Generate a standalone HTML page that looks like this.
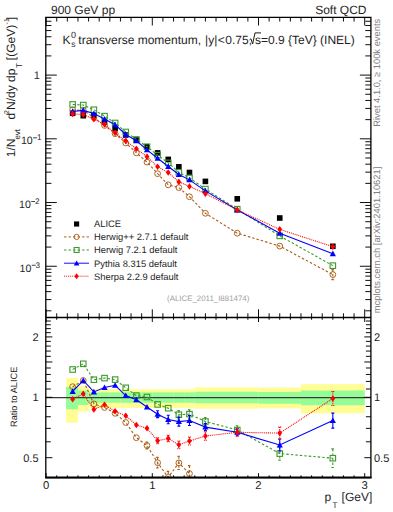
<!DOCTYPE html><html><head><meta charset="utf-8"><style>html,body{margin:0;padding:0;background:#fff;width:393px;height:512px;overflow:hidden}svg{display:block}text{text-rendering:geometricPrecision}</style></head><body><svg width="393" height="512" viewBox="0 0 393 512" font-family="Liberation Sans, sans-serif">
<rect width="393" height="512" fill="#fff"/>
<rect x="66.10" y="378.00" width="11.86" height="44.70" fill="#fffd94"/>
<rect x="77.96" y="386.40" width="10.62" height="25.00" fill="#fffd94"/>
<rect x="88.58" y="389.20" width="10.62" height="18.80" fill="#fffd94"/>
<rect x="99.20" y="389.20" width="10.62" height="18.80" fill="#fffd94"/>
<rect x="109.82" y="389.20" width="10.62" height="18.80" fill="#fffd94"/>
<rect x="120.44" y="389.20" width="10.62" height="18.80" fill="#fffd94"/>
<rect x="131.06" y="389.20" width="10.62" height="18.80" fill="#fffd94"/>
<rect x="141.68" y="389.20" width="10.62" height="18.80" fill="#fffd94"/>
<rect x="152.30" y="389.20" width="10.62" height="18.80" fill="#fffd94"/>
<rect x="162.92" y="389.20" width="10.62" height="18.80" fill="#fffd94"/>
<rect x="173.54" y="389.20" width="10.62" height="18.80" fill="#fffd94"/>
<rect x="184.16" y="389.20" width="10.62" height="18.80" fill="#fffd94"/>
<rect x="194.78" y="387.40" width="21.24" height="21.40" fill="#fffd94"/>
<rect x="216.02" y="387.40" width="42.48" height="21.40" fill="#fffd94"/>
<rect x="258.50" y="387.60" width="42.48" height="20.80" fill="#fffd94"/>
<rect x="300.98" y="384.20" width="63.72" height="29.10" fill="#fffd94"/>
<rect x="66.10" y="387.00" width="11.86" height="22.30" fill="#95fc98"/>
<rect x="77.96" y="390.60" width="10.62" height="14.40" fill="#95fc98"/>
<rect x="88.58" y="392.40" width="10.62" height="10.40" fill="#95fc98"/>
<rect x="99.20" y="392.40" width="10.62" height="10.40" fill="#95fc98"/>
<rect x="109.82" y="392.40" width="10.62" height="10.40" fill="#95fc98"/>
<rect x="120.44" y="392.40" width="10.62" height="10.40" fill="#95fc98"/>
<rect x="131.06" y="392.40" width="10.62" height="10.40" fill="#95fc98"/>
<rect x="141.68" y="392.40" width="10.62" height="10.40" fill="#95fc98"/>
<rect x="152.30" y="392.40" width="10.62" height="10.40" fill="#95fc98"/>
<rect x="162.92" y="392.40" width="10.62" height="10.40" fill="#95fc98"/>
<rect x="173.54" y="392.40" width="10.62" height="10.40" fill="#95fc98"/>
<rect x="184.16" y="392.40" width="10.62" height="10.40" fill="#95fc98"/>
<rect x="194.78" y="391.80" width="21.24" height="11.40" fill="#95fc98"/>
<rect x="216.02" y="391.80" width="42.48" height="11.40" fill="#95fc98"/>
<rect x="258.50" y="392.00" width="42.48" height="11.70" fill="#95fc98"/>
<rect x="300.98" y="390.50" width="63.72" height="14.80" fill="#95fc98"/>
<line x1="45.8" y1="397.6" x2="370.9" y2="397.6" stroke="#3a3a3a" stroke-width="1.1"/>
<defs><clipPath id="ct"><rect x="45.8" y="17.3" width="325.09999999999997" height="300.2"/></clipPath><clipPath id="cb"><rect x="45.8" y="317.5" width="325.09999999999997" height="160.10000000000002"/></clipPath></defs>
<g clip-path="url(#ct)">
<rect x="69.85" y="110.50" width="5.60" height="5.60" fill="#000"/>
<rect x="80.47" y="112.90" width="5.60" height="5.60" fill="#000"/>
<rect x="91.09" y="112.50" width="5.60" height="5.60" fill="#000"/>
<rect x="101.71" y="119.40" width="5.60" height="5.60" fill="#000"/>
<rect x="112.33" y="125.80" width="5.60" height="5.60" fill="#000"/>
<rect x="122.95" y="132.20" width="5.60" height="5.60" fill="#000"/>
<rect x="133.57" y="137.20" width="5.60" height="5.60" fill="#000"/>
<rect x="144.19" y="144.00" width="5.60" height="5.60" fill="#000"/>
<rect x="154.81" y="150.10" width="5.60" height="5.60" fill="#000"/>
<rect x="165.43" y="156.60" width="5.60" height="5.60" fill="#000"/>
<rect x="176.05" y="164.00" width="5.60" height="5.60" fill="#000"/>
<rect x="186.67" y="169.70" width="5.60" height="5.60" fill="#000"/>
<rect x="202.60" y="178.60" width="5.60" height="5.60" fill="#000"/>
<rect x="234.46" y="196.00" width="5.60" height="5.60" fill="#000"/>
<rect x="276.94" y="215.20" width="5.60" height="5.60" fill="#000"/>
<rect x="330.04" y="243.50" width="5.60" height="5.60" fill="#000"/>
<polyline points="72.65,109.93 83.27,110.36 93.89,117.40 104.51,125.44 115.13,133.68 125.75,143.00 136.37,152.83 146.99,162.11 157.61,173.67 168.23,184.84 178.85,187.64 189.47,196.74 205.40,213.30 237.26,233.20 279.74,246.10 332.84,274.60" fill="none" stroke="#aa5c16" stroke-width="1.1" stroke-dasharray="2.5,2"/>
<path d="M332.84,269.60V279.60M331.34,269.60h3M331.34,279.60h3" fill="none" stroke="#aa5c16" stroke-width="1.1" stroke-dasharray="2.5,2"/>
<circle cx="72.65" cy="109.93" r="2.90" fill="none" stroke="#aa5c16" stroke-width="0.95"/>
<circle cx="83.27" cy="110.36" r="2.90" fill="none" stroke="#aa5c16" stroke-width="0.95"/>
<circle cx="93.89" cy="117.40" r="2.90" fill="none" stroke="#aa5c16" stroke-width="0.95"/>
<circle cx="104.51" cy="125.44" r="2.90" fill="none" stroke="#aa5c16" stroke-width="0.95"/>
<circle cx="115.13" cy="133.68" r="2.90" fill="none" stroke="#aa5c16" stroke-width="0.95"/>
<circle cx="125.75" cy="143.00" r="2.90" fill="none" stroke="#aa5c16" stroke-width="0.95"/>
<circle cx="136.37" cy="152.83" r="2.90" fill="none" stroke="#aa5c16" stroke-width="0.95"/>
<circle cx="146.99" cy="162.11" r="2.90" fill="none" stroke="#aa5c16" stroke-width="0.95"/>
<circle cx="157.61" cy="173.67" r="2.90" fill="none" stroke="#aa5c16" stroke-width="0.95"/>
<circle cx="168.23" cy="184.84" r="2.90" fill="none" stroke="#aa5c16" stroke-width="0.95"/>
<circle cx="178.85" cy="187.64" r="2.90" fill="none" stroke="#aa5c16" stroke-width="0.95"/>
<circle cx="189.47" cy="196.74" r="2.90" fill="none" stroke="#aa5c16" stroke-width="0.95"/>
<circle cx="205.40" cy="213.30" r="2.90" fill="none" stroke="#aa5c16" stroke-width="0.95"/>
<circle cx="237.26" cy="233.20" r="2.90" fill="none" stroke="#aa5c16" stroke-width="0.95"/>
<circle cx="279.74" cy="246.10" r="2.90" fill="none" stroke="#aa5c16" stroke-width="0.95"/>
<circle cx="332.84" cy="274.60" r="2.90" fill="none" stroke="#aa5c16" stroke-width="0.95"/>
<polyline points="72.65,104.47 83.27,105.06 93.89,109.71 104.51,116.10 115.13,122.98 125.75,131.98 136.37,139.46 146.99,146.70 157.61,155.16 168.23,162.86 178.85,172.33 189.47,177.84 205.40,189.09 237.26,209.19 279.74,235.88 332.84,265.64" fill="none" stroke="#3a9a2a" stroke-width="1.1" stroke-dasharray="2.5,2"/>
<rect x="69.90" y="101.72" width="5.50" height="5.50" fill="none" stroke="#3a9a2a" stroke-width="1.1"/>
<rect x="80.52" y="102.31" width="5.50" height="5.50" fill="none" stroke="#3a9a2a" stroke-width="1.1"/>
<rect x="91.14" y="106.96" width="5.50" height="5.50" fill="none" stroke="#3a9a2a" stroke-width="1.1"/>
<rect x="101.76" y="113.35" width="5.50" height="5.50" fill="none" stroke="#3a9a2a" stroke-width="1.1"/>
<rect x="112.38" y="120.23" width="5.50" height="5.50" fill="none" stroke="#3a9a2a" stroke-width="1.1"/>
<rect x="123.00" y="129.23" width="5.50" height="5.50" fill="none" stroke="#3a9a2a" stroke-width="1.1"/>
<rect x="133.62" y="136.71" width="5.50" height="5.50" fill="none" stroke="#3a9a2a" stroke-width="1.1"/>
<rect x="144.24" y="143.95" width="5.50" height="5.50" fill="none" stroke="#3a9a2a" stroke-width="1.1"/>
<rect x="154.86" y="152.41" width="5.50" height="5.50" fill="none" stroke="#3a9a2a" stroke-width="1.1"/>
<rect x="165.48" y="160.11" width="5.50" height="5.50" fill="none" stroke="#3a9a2a" stroke-width="1.1"/>
<rect x="176.10" y="169.58" width="5.50" height="5.50" fill="none" stroke="#3a9a2a" stroke-width="1.1"/>
<rect x="186.72" y="175.09" width="5.50" height="5.50" fill="none" stroke="#3a9a2a" stroke-width="1.1"/>
<rect x="202.65" y="186.34" width="5.50" height="5.50" fill="none" stroke="#3a9a2a" stroke-width="1.1"/>
<rect x="234.51" y="206.44" width="5.50" height="5.50" fill="none" stroke="#3a9a2a" stroke-width="1.1"/>
<rect x="276.99" y="233.13" width="5.50" height="5.50" fill="none" stroke="#3a9a2a" stroke-width="1.1"/>
<rect x="330.09" y="262.89" width="5.50" height="5.50" fill="none" stroke="#3a9a2a" stroke-width="1.1"/>
<polyline points="72.65,111.43 83.27,110.36 93.89,113.58 104.51,119.09 115.13,124.79 125.75,134.46 136.37,140.79 146.99,149.88 157.61,158.27 168.23,166.45 178.85,174.52 189.47,179.87 205.40,190.87 237.26,209.92 279.74,233.15 332.84,253.70" fill="none" stroke="#0000ff" stroke-width="1.1"/>
<path d="M69.55,113.91L75.75,113.91L72.65,108.33Z" fill="#0000ff"/>
<path d="M80.17,112.84L86.37,112.84L83.27,107.26Z" fill="#0000ff"/>
<path d="M90.79,116.06L96.99,116.06L93.89,110.48Z" fill="#0000ff"/>
<path d="M101.41,121.57L107.61,121.57L104.51,115.99Z" fill="#0000ff"/>
<path d="M112.03,127.27L118.23,127.27L115.13,121.69Z" fill="#0000ff"/>
<path d="M122.65,136.94L128.85,136.94L125.75,131.36Z" fill="#0000ff"/>
<path d="M133.27,143.27L139.47,143.27L136.37,137.69Z" fill="#0000ff"/>
<path d="M143.89,152.36L150.09,152.36L146.99,146.78Z" fill="#0000ff"/>
<path d="M154.51,160.75L160.71,160.75L157.61,155.17Z" fill="#0000ff"/>
<path d="M165.13,168.93L171.33,168.93L168.23,163.35Z" fill="#0000ff"/>
<path d="M175.75,177.00L181.95,177.00L178.85,171.42Z" fill="#0000ff"/>
<path d="M186.37,182.35L192.57,182.35L189.47,176.77Z" fill="#0000ff"/>
<path d="M202.30,193.35L208.50,193.35L205.40,187.77Z" fill="#0000ff"/>
<path d="M234.16,212.40L240.36,212.40L237.26,206.82Z" fill="#0000ff"/>
<path d="M276.64,235.63L282.84,235.63L279.74,230.05Z" fill="#0000ff"/>
<path d="M329.74,256.18L335.94,256.18L332.84,250.60Z" fill="#0000ff"/>
<polyline points="72.65,113.90 83.27,114.57 93.89,119.14 104.51,124.55 115.13,133.05 125.75,140.84 136.37,148.80 146.99,156.65 157.61,166.72 168.23,172.46 178.85,181.89 189.47,186.38 205.40,193.69 237.26,209.92 279.74,229.37 332.84,246.68" fill="none" stroke="#ff0000" stroke-width="1.1" stroke-dasharray="1,0.95"/>
<path d="M72.65,110.60L75.05,113.90L72.65,117.20L70.25,113.90Z" fill="#ff0000"/>
<path d="M83.27,111.27L85.67,114.57L83.27,117.87L80.87,114.57Z" fill="#ff0000"/>
<path d="M93.89,115.84L96.29,119.14L93.89,122.44L91.49,119.14Z" fill="#ff0000"/>
<path d="M104.51,121.25L106.91,124.55L104.51,127.85L102.11,124.55Z" fill="#ff0000"/>
<path d="M115.13,129.75L117.53,133.05L115.13,136.35L112.73,133.05Z" fill="#ff0000"/>
<path d="M125.75,137.54L128.15,140.84L125.75,144.14L123.35,140.84Z" fill="#ff0000"/>
<path d="M136.37,145.50L138.77,148.80L136.37,152.10L133.97,148.80Z" fill="#ff0000"/>
<path d="M146.99,153.35L149.39,156.65L146.99,159.95L144.59,156.65Z" fill="#ff0000"/>
<path d="M157.61,163.42L160.01,166.72L157.61,170.02L155.21,166.72Z" fill="#ff0000"/>
<path d="M168.23,169.16L170.63,172.46L168.23,175.76L165.83,172.46Z" fill="#ff0000"/>
<path d="M178.85,178.59L181.25,181.89L178.85,185.19L176.45,181.89Z" fill="#ff0000"/>
<path d="M189.47,183.08L191.87,186.38L189.47,189.68L187.07,186.38Z" fill="#ff0000"/>
<path d="M205.40,190.39L207.80,193.69L205.40,196.99L203.00,193.69Z" fill="#ff0000"/>
<path d="M237.26,206.62L239.66,209.92L237.26,213.22L234.86,209.92Z" fill="#ff0000"/>
<path d="M279.74,226.07L282.14,229.37L279.74,232.67L277.34,229.37Z" fill="#ff0000"/>
<path d="M332.84,243.38L335.24,246.68L332.84,249.98L330.44,246.68Z" fill="#ff0000"/>
</g>
<g clip-path="url(#cb)">
<polyline points="72.65,386.70 83.27,380.50 93.89,403.90 104.51,407.50 115.13,413.30 125.75,422.50 136.37,437.70 146.99,445.50 157.61,462.70 168.23,477.40 178.85,462.90 189.47,473.60" fill="none" stroke="#aa5c16" stroke-width="1.1" stroke-dasharray="2.5,2"/>
<path d="M146.99,442.00V449.00M145.49,442.00h3M145.49,449.00h3M157.61,457.40V468.00M156.11,457.40h3M156.11,468.00h3M168.23,471.40V483.40M166.73,471.40h3M166.73,483.40h3M178.85,456.30V469.50M177.35,456.30h3M177.35,469.50h3M189.47,465.60V481.60M187.97,465.60h3M187.97,481.60h3" fill="none" stroke="#aa5c16" stroke-width="1.1" stroke-dasharray="2.5,2"/>
<circle cx="72.65" cy="386.70" r="2.90" fill="none" stroke="#aa5c16" stroke-width="0.95"/>
<circle cx="83.27" cy="380.50" r="2.90" fill="none" stroke="#aa5c16" stroke-width="0.95"/>
<circle cx="93.89" cy="403.90" r="2.90" fill="none" stroke="#aa5c16" stroke-width="0.95"/>
<circle cx="104.51" cy="407.50" r="2.90" fill="none" stroke="#aa5c16" stroke-width="0.95"/>
<circle cx="115.13" cy="413.30" r="2.90" fill="none" stroke="#aa5c16" stroke-width="0.95"/>
<circle cx="125.75" cy="422.50" r="2.90" fill="none" stroke="#aa5c16" stroke-width="0.95"/>
<circle cx="136.37" cy="437.70" r="2.90" fill="none" stroke="#aa5c16" stroke-width="0.95"/>
<circle cx="146.99" cy="445.50" r="2.90" fill="none" stroke="#aa5c16" stroke-width="0.95"/>
<circle cx="157.61" cy="462.70" r="2.90" fill="none" stroke="#aa5c16" stroke-width="0.95"/>
<circle cx="168.23" cy="477.40" r="2.90" fill="none" stroke="#aa5c16" stroke-width="0.95"/>
<circle cx="178.85" cy="462.90" r="2.90" fill="none" stroke="#aa5c16" stroke-width="0.95"/>
<circle cx="189.47" cy="473.60" r="2.90" fill="none" stroke="#aa5c16" stroke-width="0.95"/>
<polyline points="72.65,369.50 83.27,363.80 93.89,379.70 104.51,378.10 115.13,379.60 125.75,387.80 136.37,395.60 146.99,397.00 157.61,404.40 168.23,408.20 178.85,414.70 189.47,414.10 205.40,421.50 237.26,430.00 279.74,453.60 332.84,458.20" fill="none" stroke="#3a9a2a" stroke-width="1.1" stroke-dasharray="2.5,2"/>
<path d="M178.85,410.50V418.90M177.35,410.50h3M177.35,418.90h3M189.47,409.90V418.30M187.97,409.90h3M187.97,418.30h3M205.40,417.50V425.50M203.90,417.50h3M203.90,425.50h3M237.26,425.80V434.20M235.76,425.80h3M235.76,434.20h3M279.74,447.10V460.10M278.24,447.10h3M278.24,460.10h3M332.84,448.90V467.50M331.34,448.90h3M331.34,467.50h3" fill="none" stroke="#3a9a2a" stroke-width="1.1" stroke-dasharray="2.5,2"/>
<rect x="69.90" y="366.75" width="5.50" height="5.50" fill="none" stroke="#3a9a2a" stroke-width="1.1"/>
<rect x="80.52" y="361.05" width="5.50" height="5.50" fill="none" stroke="#3a9a2a" stroke-width="1.1"/>
<rect x="91.14" y="376.95" width="5.50" height="5.50" fill="none" stroke="#3a9a2a" stroke-width="1.1"/>
<rect x="101.76" y="375.35" width="5.50" height="5.50" fill="none" stroke="#3a9a2a" stroke-width="1.1"/>
<rect x="112.38" y="376.85" width="5.50" height="5.50" fill="none" stroke="#3a9a2a" stroke-width="1.1"/>
<rect x="123.00" y="385.05" width="5.50" height="5.50" fill="none" stroke="#3a9a2a" stroke-width="1.1"/>
<rect x="133.62" y="392.85" width="5.50" height="5.50" fill="none" stroke="#3a9a2a" stroke-width="1.1"/>
<rect x="144.24" y="394.25" width="5.50" height="5.50" fill="none" stroke="#3a9a2a" stroke-width="1.1"/>
<rect x="154.86" y="401.65" width="5.50" height="5.50" fill="none" stroke="#3a9a2a" stroke-width="1.1"/>
<rect x="165.48" y="405.45" width="5.50" height="5.50" fill="none" stroke="#3a9a2a" stroke-width="1.1"/>
<rect x="176.10" y="411.95" width="5.50" height="5.50" fill="none" stroke="#3a9a2a" stroke-width="1.1"/>
<rect x="186.72" y="411.35" width="5.50" height="5.50" fill="none" stroke="#3a9a2a" stroke-width="1.1"/>
<rect x="202.65" y="418.75" width="5.50" height="5.50" fill="none" stroke="#3a9a2a" stroke-width="1.1"/>
<rect x="234.51" y="427.25" width="5.50" height="5.50" fill="none" stroke="#3a9a2a" stroke-width="1.1"/>
<rect x="276.99" y="450.85" width="5.50" height="5.50" fill="none" stroke="#3a9a2a" stroke-width="1.1"/>
<rect x="330.09" y="455.45" width="5.50" height="5.50" fill="none" stroke="#3a9a2a" stroke-width="1.1"/>
<polyline points="72.65,391.40 83.27,380.50 93.89,391.90 104.51,387.50 115.13,385.30 125.75,395.60 136.37,399.80 146.99,407.00 157.61,414.20 168.23,419.50 178.85,421.60 189.47,420.50 205.40,427.10 237.26,432.30 279.74,445.00 332.84,420.60" fill="none" stroke="#0000ff" stroke-width="1.1"/>
<path d="M157.61,410.80V417.60M156.11,410.80h3M156.11,417.60h3M168.23,415.30V423.70M166.73,415.30h3M166.73,423.70h3M178.85,417.10V426.10M177.35,417.10h3M177.35,426.10h3M189.47,415.50V425.50M187.97,415.50h3M187.97,425.50h3M205.40,423.60V430.60M203.90,423.60h3M203.90,430.60h3M237.26,428.90V435.70M235.76,428.90h3M235.76,435.70h3M279.74,439.00V451.00M278.24,439.00h3M278.24,451.00h3M332.84,413.10V428.10M331.34,413.10h3M331.34,428.10h3" fill="none" stroke="#0000ff" stroke-width="1.1"/>
<path d="M69.55,393.88L75.75,393.88L72.65,388.30Z" fill="#0000ff"/>
<path d="M80.17,382.98L86.37,382.98L83.27,377.40Z" fill="#0000ff"/>
<path d="M90.79,394.38L96.99,394.38L93.89,388.80Z" fill="#0000ff"/>
<path d="M101.41,389.98L107.61,389.98L104.51,384.40Z" fill="#0000ff"/>
<path d="M112.03,387.78L118.23,387.78L115.13,382.20Z" fill="#0000ff"/>
<path d="M122.65,398.08L128.85,398.08L125.75,392.50Z" fill="#0000ff"/>
<path d="M133.27,402.28L139.47,402.28L136.37,396.70Z" fill="#0000ff"/>
<path d="M143.89,409.48L150.09,409.48L146.99,403.90Z" fill="#0000ff"/>
<path d="M154.51,416.68L160.71,416.68L157.61,411.10Z" fill="#0000ff"/>
<path d="M165.13,421.98L171.33,421.98L168.23,416.40Z" fill="#0000ff"/>
<path d="M175.75,424.08L181.95,424.08L178.85,418.50Z" fill="#0000ff"/>
<path d="M186.37,422.98L192.57,422.98L189.47,417.40Z" fill="#0000ff"/>
<path d="M202.30,429.58L208.50,429.58L205.40,424.00Z" fill="#0000ff"/>
<path d="M234.16,434.78L240.36,434.78L237.26,429.20Z" fill="#0000ff"/>
<path d="M276.64,447.48L282.84,447.48L279.74,441.90Z" fill="#0000ff"/>
<path d="M329.74,423.08L335.94,423.08L332.84,417.50Z" fill="#0000ff"/>
<polyline points="72.65,399.20 83.27,393.75 93.89,409.40 104.51,404.70 115.13,411.30 125.75,415.70 136.37,425.00 146.99,428.30 157.61,440.80 168.23,438.40 178.85,444.80 189.47,441.00 205.40,436.00 237.26,432.30 279.74,433.10 332.84,398.50" fill="none" stroke="#ff0000" stroke-width="1.1" stroke-dasharray="1,0.95"/>
<path d="M157.61,437.80V443.80M156.11,437.80h3M156.11,443.80h3M168.23,435.20V441.60M166.73,435.20h3M166.73,441.60h3M178.85,441.00V448.60M177.35,441.00h3M177.35,448.60h3M189.47,437.00V445.00M187.97,437.00h3M187.97,445.00h3M205.40,431.80V440.20M203.90,431.80h3M203.90,440.20h3M237.26,428.30V436.30M235.76,428.30h3M235.76,436.30h3M279.74,427.10V439.10M278.24,427.10h3M278.24,439.10h3M332.84,391.50V405.50M331.34,391.50h3M331.34,405.50h3" fill="none" stroke="#ff0000" stroke-width="1.1" stroke-dasharray="1,0.95"/>
<path d="M72.65,395.90L75.05,399.20L72.65,402.50L70.25,399.20Z" fill="#ff0000"/>
<path d="M83.27,390.45L85.67,393.75L83.27,397.05L80.87,393.75Z" fill="#ff0000"/>
<path d="M93.89,406.10L96.29,409.40L93.89,412.70L91.49,409.40Z" fill="#ff0000"/>
<path d="M104.51,401.40L106.91,404.70L104.51,408.00L102.11,404.70Z" fill="#ff0000"/>
<path d="M115.13,408.00L117.53,411.30L115.13,414.60L112.73,411.30Z" fill="#ff0000"/>
<path d="M125.75,412.40L128.15,415.70L125.75,419.00L123.35,415.70Z" fill="#ff0000"/>
<path d="M136.37,421.70L138.77,425.00L136.37,428.30L133.97,425.00Z" fill="#ff0000"/>
<path d="M146.99,425.00L149.39,428.30L146.99,431.60L144.59,428.30Z" fill="#ff0000"/>
<path d="M157.61,437.50L160.01,440.80L157.61,444.10L155.21,440.80Z" fill="#ff0000"/>
<path d="M168.23,435.10L170.63,438.40L168.23,441.70L165.83,438.40Z" fill="#ff0000"/>
<path d="M178.85,441.50L181.25,444.80L178.85,448.10L176.45,444.80Z" fill="#ff0000"/>
<path d="M189.47,437.70L191.87,441.00L189.47,444.30L187.07,441.00Z" fill="#ff0000"/>
<path d="M205.40,432.70L207.80,436.00L205.40,439.30L203.00,436.00Z" fill="#ff0000"/>
<path d="M237.26,429.00L239.66,432.30L237.26,435.60L234.86,432.30Z" fill="#ff0000"/>
<path d="M279.74,429.80L282.14,433.10L279.74,436.40L277.34,433.10Z" fill="#ff0000"/>
<path d="M332.84,395.20L335.24,398.50L332.84,401.80L330.44,398.50Z" fill="#ff0000"/>
</g>
<path d="M45.8,17.3H370.9V477.6H45.8Z" fill="none" stroke="#000" stroke-width="1.3"/>
<line x1="45.8" y1="317.5" x2="370.9" y2="317.5" stroke="#000" stroke-width="1.3"/>
<line x1="45.199999999999996" y1="477.6" x2="371.5" y2="477.6" stroke="#000" stroke-width="2.0"/>
<path d="M46.10,17.3v8.2M46.10,317.5v-8.2M46.10,317.5v4.5M46.10,477.6v-4.5M56.72,17.3v4.2M56.72,317.5v-4.2M56.72,317.5v2.3M56.72,477.6v-2.3M67.34,17.3v4.2M67.34,317.5v-4.2M67.34,317.5v2.3M67.34,477.6v-2.3M77.96,17.3v4.2M77.96,317.5v-4.2M77.96,317.5v2.3M77.96,477.6v-2.3M88.58,17.3v4.2M88.58,317.5v-4.2M88.58,317.5v2.3M88.58,477.6v-2.3M99.20,17.3v4.2M99.20,317.5v-4.2M99.20,317.5v2.3M99.20,477.6v-2.3M109.82,17.3v4.2M109.82,317.5v-4.2M109.82,317.5v2.3M109.82,477.6v-2.3M120.44,17.3v4.2M120.44,317.5v-4.2M120.44,317.5v2.3M120.44,477.6v-2.3M131.06,17.3v4.2M131.06,317.5v-4.2M131.06,317.5v2.3M131.06,477.6v-2.3M141.68,17.3v4.2M141.68,317.5v-4.2M141.68,317.5v2.3M141.68,477.6v-2.3M152.30,17.3v8.2M152.30,317.5v-8.2M152.30,317.5v4.5M152.30,477.6v-4.5M162.92,17.3v4.2M162.92,317.5v-4.2M162.92,317.5v2.3M162.92,477.6v-2.3M173.54,17.3v4.2M173.54,317.5v-4.2M173.54,317.5v2.3M173.54,477.6v-2.3M184.16,17.3v4.2M184.16,317.5v-4.2M184.16,317.5v2.3M184.16,477.6v-2.3M194.78,17.3v4.2M194.78,317.5v-4.2M194.78,317.5v2.3M194.78,477.6v-2.3M205.40,17.3v4.2M205.40,317.5v-4.2M205.40,317.5v2.3M205.40,477.6v-2.3M216.02,17.3v4.2M216.02,317.5v-4.2M216.02,317.5v2.3M216.02,477.6v-2.3M226.64,17.3v4.2M226.64,317.5v-4.2M226.64,317.5v2.3M226.64,477.6v-2.3M237.26,17.3v4.2M237.26,317.5v-4.2M237.26,317.5v2.3M237.26,477.6v-2.3M247.88,17.3v4.2M247.88,317.5v-4.2M247.88,317.5v2.3M247.88,477.6v-2.3M258.50,17.3v8.2M258.50,317.5v-8.2M258.50,317.5v4.5M258.50,477.6v-4.5M269.12,17.3v4.2M269.12,317.5v-4.2M269.12,317.5v2.3M269.12,477.6v-2.3M279.74,17.3v4.2M279.74,317.5v-4.2M279.74,317.5v2.3M279.74,477.6v-2.3M290.36,17.3v4.2M290.36,317.5v-4.2M290.36,317.5v2.3M290.36,477.6v-2.3M300.98,17.3v4.2M300.98,317.5v-4.2M300.98,317.5v2.3M300.98,477.6v-2.3M311.60,17.3v4.2M311.60,317.5v-4.2M311.60,317.5v2.3M311.60,477.6v-2.3M322.22,17.3v4.2M322.22,317.5v-4.2M322.22,317.5v2.3M322.22,477.6v-2.3M332.84,17.3v4.2M332.84,317.5v-4.2M332.84,317.5v2.3M332.84,477.6v-2.3M343.46,17.3v4.2M343.46,317.5v-4.2M343.46,317.5v2.3M343.46,477.6v-2.3M354.08,17.3v4.2M354.08,317.5v-4.2M354.08,317.5v2.3M354.08,477.6v-2.3M364.70,17.3v8.2M364.70,317.5v-8.2M364.70,317.5v4.5M364.70,477.6v-4.5M45.8,310.80h5.6M370.9,310.80h-5.6M45.8,299.58h5.6M370.9,299.58h-5.6M45.8,291.62h5.6M370.9,291.62h-5.6M45.8,285.44h5.6M370.9,285.44h-5.6M45.8,280.40h5.6M370.9,280.40h-5.6M45.8,276.13h5.6M370.9,276.13h-5.6M45.8,272.44h5.6M370.9,272.44h-5.6M45.8,269.18h5.6M370.9,269.18h-5.6M45.8,266.26h11M370.9,266.26h-11M45.8,247.08h5.6M370.9,247.08h-5.6M45.8,235.86h5.6M370.9,235.86h-5.6M45.8,227.90h5.6M370.9,227.90h-5.6M45.8,221.72h5.6M370.9,221.72h-5.6M45.8,216.68h5.6M370.9,216.68h-5.6M45.8,212.41h5.6M370.9,212.41h-5.6M45.8,208.72h5.6M370.9,208.72h-5.6M45.8,205.46h5.6M370.9,205.46h-5.6M45.8,202.54h11M370.9,202.54h-11M45.8,183.36h5.6M370.9,183.36h-5.6M45.8,172.14h5.6M370.9,172.14h-5.6M45.8,164.18h5.6M370.9,164.18h-5.6M45.8,158.00h5.6M370.9,158.00h-5.6M45.8,152.96h5.6M370.9,152.96h-5.6M45.8,148.69h5.6M370.9,148.69h-5.6M45.8,145.00h5.6M370.9,145.00h-5.6M45.8,141.74h5.6M370.9,141.74h-5.6M45.8,138.82h11M370.9,138.82h-11M45.8,119.64h5.6M370.9,119.64h-5.6M45.8,108.42h5.6M370.9,108.42h-5.6M45.8,100.46h5.6M370.9,100.46h-5.6M45.8,94.28h5.6M370.9,94.28h-5.6M45.8,89.24h5.6M370.9,89.24h-5.6M45.8,84.97h5.6M370.9,84.97h-5.6M45.8,81.28h5.6M370.9,81.28h-5.6M45.8,78.02h5.6M370.9,78.02h-5.6M45.8,75.10h11M370.9,75.10h-11M45.8,55.92h5.6M370.9,55.92h-5.6M45.8,44.70h5.6M370.9,44.70h-5.6M45.8,36.74h5.6M370.9,36.74h-5.6M45.8,30.56h5.6M370.9,30.56h-5.6M45.8,25.52h5.6M370.9,25.52h-5.6M45.8,21.25h5.6M370.9,21.25h-5.6M45.8,17.56h5.6M370.9,17.56h-5.6M45.8,457.69h6.6M370.9,457.69h-6.6M45.8,441.80h5.0M370.9,441.80h-5.0M45.8,428.37h5.0M370.9,428.37h-5.0M45.8,416.74h5.0M370.9,416.74h-5.0M45.8,406.48h5.0M370.9,406.48h-5.0M45.8,397.30h6.6M370.9,397.30h-6.6M45.8,389.00h5.0M370.9,389.00h-5.0M45.8,381.42h5.0M370.9,381.42h-5.0M45.8,374.44h5.0M370.9,374.44h-5.0M45.8,367.99h5.0M370.9,367.99h-5.0M45.8,361.98h6.6M370.9,361.98h-6.6M45.8,356.35h5.0M370.9,356.35h-5.0M45.8,351.07h5.0M370.9,351.07h-5.0M45.8,346.09h5.0M370.9,346.09h-5.0M45.8,341.38h5.0M370.9,341.38h-5.0M45.8,336.91h6.6M370.9,336.91h-6.6M45.8,332.66h5.0M370.9,332.66h-5.0M45.8,328.61h5.0M370.9,328.61h-5.0M45.8,324.74h5.0M370.9,324.74h-5.0M45.8,321.03h5.0M370.9,321.03h-5.0" stroke="#000" stroke-width="0.95" fill="none"/>
<text x="46.10" y="489.20" font-size="11.3" text-anchor="middle" fill="#1e1e1e" >0</text>
<text x="152.30" y="489.20" font-size="11.3" text-anchor="middle" fill="#1e1e1e" >1</text>
<text x="258.50" y="489.20" font-size="11.3" text-anchor="middle" fill="#1e1e1e" >2</text>
<text x="364.70" y="489.20" font-size="11.3" text-anchor="middle" fill="#1e1e1e" >3</text>
<text x="39.80" y="79.00" font-size="11" text-anchor="end" fill="#1e1e1e" >1</text>
<text x="32.7" y="144.32" font-size="10.6" text-anchor="end" fill="#1e1e1e">10</text>
<path d="M33.10,137.82h3.9" stroke="#000" stroke-width="0.75"/>
<text x="36.90" y="140.32" font-size="8.2" fill="#1e1e1e">1</text>
<text x="30.8" y="208.04" font-size="10.6" text-anchor="end" fill="#1e1e1e">10</text>
<path d="M31.20,201.54h3.9" stroke="#000" stroke-width="0.75"/>
<text x="35.00" y="204.04" font-size="8.2" fill="#1e1e1e">2</text>
<text x="31.4" y="271.76" font-size="10.6" text-anchor="end" fill="#1e1e1e">10</text>
<path d="M31.80,265.26h3.9" stroke="#000" stroke-width="0.75"/>
<text x="35.60" y="267.76" font-size="8.2" fill="#1e1e1e">3</text>
<text x="38.50" y="461.69" font-size="11" text-anchor="end" fill="#1e1e1e" >0.5</text>
<text x="374.00" y="461.69" font-size="11" text-anchor="start" fill="#1e1e1e" >0.5</text>
<text x="38.50" y="401.30" font-size="11" text-anchor="end" fill="#1e1e1e" >1</text>
<text x="374.00" y="401.30" font-size="11" text-anchor="start" fill="#1e1e1e" >1</text>
<text x="38.50" y="340.91" font-size="11" text-anchor="end" fill="#1e1e1e" >2</text>
<text x="374.00" y="340.91" font-size="11" text-anchor="start" fill="#1e1e1e" >2</text>
<text x="51.00" y="13.80" font-size="12" text-anchor="start" fill="#1e1e1e" >900 GeV pp</text>
<text x="366.50" y="13.80" font-size="12" text-anchor="end" fill="#1e1e1e" >Soft QCD</text>
<text x="62.50" y="44.00" font-size="12" text-anchor="start" fill="#1e1e1e" >K</text>
<text x="70.90" y="38.20" font-size="9" text-anchor="start" fill="#1e1e1e" >0</text>
<text x="71.20" y="47.00" font-size="8.5" text-anchor="start" fill="#1e1e1e" >s</text>
<text x="78.30" y="44.00" font-size="12" text-anchor="start" fill="#1e1e1e" >transverse momentum,</text>
<text x="205.10" y="44.00" font-size="12" text-anchor="start" fill="#1e1e1e" >|y|</text>
<text x="217.80" y="44.00" font-size="12" text-anchor="start" fill="#1e1e1e" >&lt;</text>
<text x="225.30" y="44.00" font-size="12" text-anchor="start" fill="#1e1e1e" >0.75,</text>
<path d="M249.6,39.8l1.3,-1l1.8,5l2.3,-10.9h6" fill="none" stroke="#000" stroke-width="0.9"/>
<text x="354.80" y="44.00" font-size="12" text-anchor="end" fill="#1e1e1e" >s=0.9 {TeV} (INEL)</text>
<text x="94.00" y="227.30" font-size="9.4" text-anchor="start" fill="#1e1e1e" >ALICE</text>
<text x="94.00" y="240.20" font-size="9.4" text-anchor="start" fill="#1e1e1e" >Herwig++ 2.7.1 default</text>
<text x="94.00" y="253.30" font-size="9.4" text-anchor="start" fill="#1e1e1e" >Herwig 7.2.1 default</text>
<text x="94.00" y="266.50" font-size="9.4" text-anchor="start" fill="#1e1e1e" >Pythia 8.315 default</text>
<text x="94.00" y="279.50" font-size="9.4" text-anchor="start" fill="#1e1e1e" >Sherpa 2.2.9 default</text>
<rect x="74.02" y="221.42" width="5.15" height="5.15" fill="#000"/>
<line x1="64" y1="236.9" x2="89" y2="236.9" stroke="#aa5c16" stroke-width="0.95" stroke-dasharray="2.5,2"/>
<circle cx="76.60" cy="236.90" r="2.61" fill="none" stroke="#aa5c16" stroke-width="0.95"/>
<line x1="64" y1="250.0" x2="89" y2="250.0" stroke="#3a9a2a" stroke-width="0.95" stroke-dasharray="2.5,2"/>
<rect x="74.12" y="247.53" width="4.95" height="4.95" fill="none" stroke="#3a9a2a" stroke-width="1.1"/>
<line x1="64" y1="263.2" x2="89" y2="263.2" stroke="#0000ff" stroke-width="0.95"/>
<path d="M73.81,265.43L79.39,265.43L76.60,260.41Z" fill="#0000ff"/>
<line x1="64" y1="276.2" x2="89" y2="276.2" stroke="#ff0000" stroke-width="0.95" stroke-dasharray="1,0.95"/>
<path d="M76.60,273.23L78.76,276.20L76.60,279.17L74.44,276.20Z" fill="#ff0000"/>
<text x="167.00" y="301.30" font-size="7.9" text-anchor="start" fill="#a0a0a0" >(ALICE_2011_I881474)</text>
<text transform="rotate(-90)" x="-157.20" y="15.20" font-size="12" fill="#1e1e1e">1/N</text>
<text transform="rotate(-90)" x="-139.60" y="20.00" font-size="8" fill="#1e1e1e">evt</text>
<text transform="rotate(-90)" x="-119.60" y="15.20" font-size="12" fill="#1e1e1e">d</text>
<text transform="rotate(-90)" x="-113.90" y="9.30" font-size="7" fill="#1e1e1e">2</text>
<text transform="rotate(-90)" x="-110.00" y="15.20" font-size="12" fill="#1e1e1e">N/dy dp</text>
<text transform="rotate(-90)" x="-68.00" y="22.30" font-size="8.3" fill="#1e1e1e">T</text>
<text transform="rotate(-90)" x="-60.20" y="15.20" font-size="12" fill="#1e1e1e">[(GeV)</text>
<text transform="rotate(-90)" x="-24.40" y="8.60" font-size="7" fill="#1e1e1e">-1</text>
<text transform="rotate(-90)" x="-20.20" y="15.20" font-size="12" fill="#1e1e1e">]</text>
<text transform="translate(17.3,427) rotate(-90)" font-size="9.2" fill="#1e1e1e">Ratio to ALICE</text>
<text transform="translate(379.8,126.8) rotate(-90)" font-size="9.35" fill="#808080">Rivet 4.1.0, ≥ 100k events</text>
<text transform="translate(379.8,313.2) rotate(-90)" font-size="9.35" fill="#808080">mcplots.cern.ch [arXiv:2401.10621]</text>
<text x="324.60" y="500.60" font-size="12" text-anchor="start" fill="#1e1e1e" >p</text>
<text x="332.60" y="507.50" font-size="8" text-anchor="start" fill="#1e1e1e" >T</text>
<text x="341.60" y="500.60" font-size="12" text-anchor="start" fill="#1e1e1e" >[GeV]</text>
</svg></body></html>
